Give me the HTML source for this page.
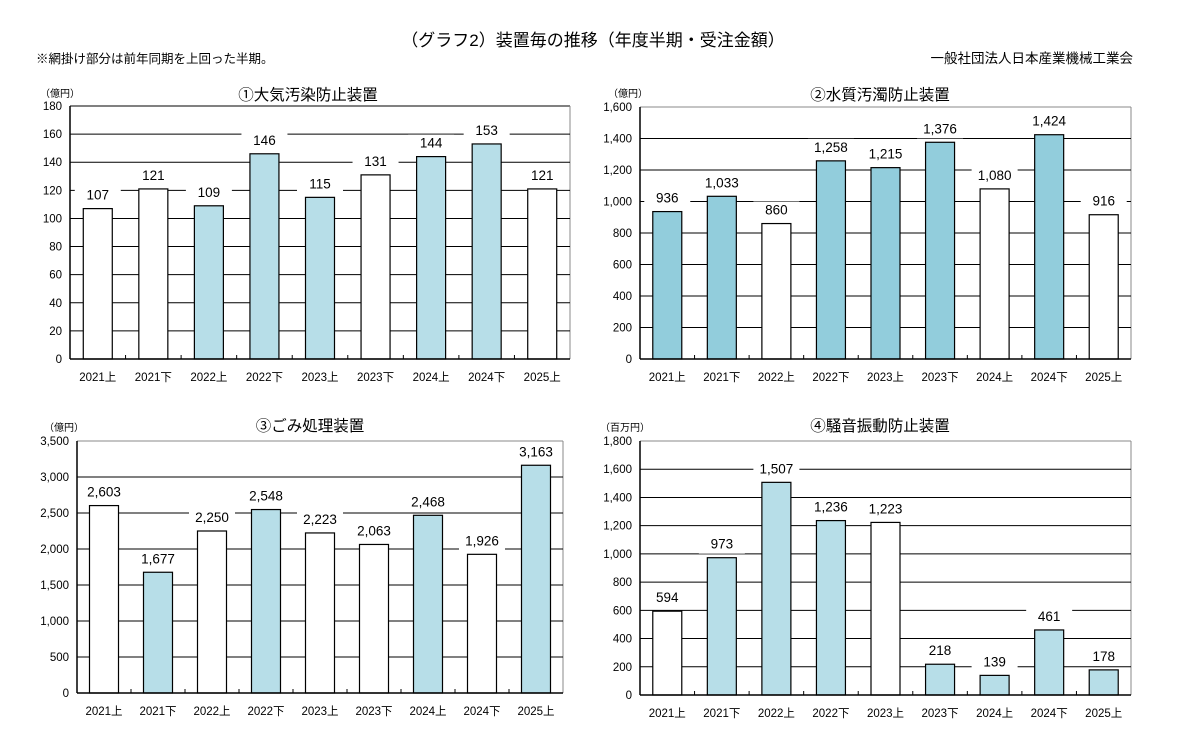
<!DOCTYPE html>
<html><head><meta charset="utf-8">
<style>
body{margin:0;background:#fff;width:1186px;height:748px;overflow:hidden;font-family:"Liberation Sans","Noto Sans CJK JP",sans-serif;}
svg{position:absolute;left:0;top:0;}
text{font-family:"Liberation Sans","Noto Sans CJK JP",sans-serif;fill:#000;}
</style></head>
<body>
<svg id="s" width="1186" height="748">
<text x="593" y="46" text-anchor="middle" font-size="17">（グラフ2）装置毎の推移（年度半期・受注金額）</text>
<text x="36" y="63" font-size="12.5">※網掛け部分は前年同期を上回った半期。</text>
<text x="1133" y="63" text-anchor="end" font-size="13.5">一般社団法人日本産業機械工業会</text>
</svg>
<script>
const categories=["2021上","2021下","2022上","2022下","2023上","2023下","2024上","2024下","2025上"];
const values1=[107,121,109,146,115,131,144,153,121];
const values2=[936,1033,860,1258,1215,1376,1080,1424,916];
const values3=[2603,1677,2250,2548,2223,2063,2468,1926,3163];
const values4=[594,973,1507,1236,1223,218,139,461,178];
const shaded1=[0,0,1,1,1,0,1,1,0];
const shaded2=[1,1,0,1,1,1,0,1,0];
const shaded3=[0,1,0,1,0,0,1,0,1];
const shaded4=[0,1,1,1,0,1,1,1,1];
const titles=["①大気汚染防止装置","②水質汚濁防止装置","③ごみ処理装置","④騒音振動防止装置"];
const units=["（億円）","（億円）","（億円）","（百万円）"];
const ymax=[180,1600,3500,1800];
const ystep=[20,200,500,200];

const NS="http://www.w3.org/2000/svg";
const svg=document.getElementById('s');
function mk(tag,attrs,parent){const e=document.createElementNS(NS,tag);for(const k in attrs)e.setAttribute(k,attrs[k]);(parent||svg).appendChild(e);return e;}
function fmt(v){return v.toLocaleString('en-US');}

const panels=[
 {x0:70,x1:570,yTop:106,yBot:359,vals:values1,sh:shaded1,col:"#b7dee8",tx:308,ty:100,ux:40,uy:97,name:"air-pollution",topc:'#000'},
 {x0:640,x1:1131,yTop:107,yBot:359,vals:values2,sh:shaded2,col:"#92cddc",tx:880,ty:100,ux:608,uy:97,name:"water-pollution",topc:'#888'},
 {x0:77,x1:563,yTop:441,yBot:693,vals:values3,sh:shaded3,col:"#b7dee8",tx:310,ty:431,ux:44,uy:431,name:"waste-treatment",topc:'#888'},
 {x0:640,x1:1131,yTop:441,yBot:695,vals:values4,sh:shaded4,col:"#b7dee8",tx:880,ty:431,ux:600,uy:431,name:"noise-vibration",topc:'#888'}
];
panels.forEach((p,i)=>{
 const g=mk('g',{});
 
 
 const Y=v=>p.yBot-(v/ymax[i])*(p.yBot-p.yTop);
 const bw=(p.x1-p.x0)/categories.length;
 const X=k=>p.x0+bw*(k+0.5);
 const t=mk('text',{x:p.tx,y:p.ty,'text-anchor':'middle','font-size':15.5},g);t.textContent=titles[i];
 
 const u=mk('text',{x:p.ux,y:p.uy,'font-size':10},g);u.textContent=units[i];
 
 mk('line',{x1:p.x0,x2:p.x1,y1:p.yTop,y2:p.yTop,stroke:p.topc,'stroke-width':1},g);
 mk('line',{x1:p.x1,x2:p.x1,y1:p.yTop,y2:p.yBot,stroke:'#888','stroke-width':1},g);
 for(let v=0;v<=ymax[i];v+=ystep[i]){
  const y=Y(v);
  if(v>0&&v<ymax[i]) mk('line',{x1:p.x0,x2:p.x1,y1:y,y2:y,stroke:'#000','stroke-width':1},g);
  const tl=mk('text',{x:p.x0-8,y:y+4,'text-anchor':'end','font-size':11.5},g);tl.textContent=fmt(v);
  
 }
 categories.forEach((c,k)=>{
  const v=p.vals[k];const cx=X(k);const w=29;
  const ly=Y(v)-9;
  mk('rect',{x:cx-23,y:ly-13,width:46,height:18,fill:'#fff'},g);
  const lt=mk('text',{x:cx,y:ly,'text-anchor':'middle','font-size':13.5},g);lt.textContent=fmt(v);
  
  const r=mk('rect',{x:cx-w/2,y:Y(v),width:w,height:p.yBot-Y(v),fill:p.sh[k]?p.col:'#fff',stroke:'#000','stroke-width':1.2},g);
  
  const xl=mk('text',{x:cx,y:p.yBot+22,'text-anchor':'middle','font-size':11.5},g);xl.textContent=c;
  
  if(k>0) mk('line',{x1:p.x0+bw*k,x2:p.x0+bw*k,y1:p.yBot,y2:p.yBot-4,stroke:'#000'},g);
 });
 mk('line',{x1:p.x0,x2:p.x0,y1:p.yTop,y2:p.yBot,stroke:'#000','stroke-width':1.5},g);
 mk('line',{x1:p.x0,x2:p.x1,y1:p.yBot,y2:p.yBot,stroke:'#000','stroke-width':1.5},g);
});
</script>
</body></html>
